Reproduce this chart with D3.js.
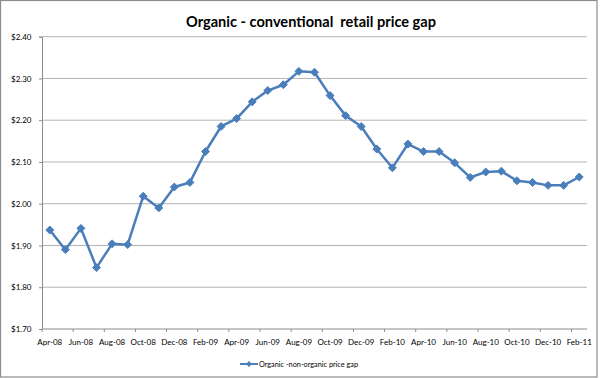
<!DOCTYPE html>
<html>
<head>
<meta charset="utf-8">
<script src="https://cdn.jsdelivr.net/npm/d3@7"></script>
<style>
  html, body { margin: 0; padding: 0; background: #fff; }
  svg { display: block; font-family: "Lato", "Liberation Sans", sans-serif; }
</style>
</head>
<body>
<div id="chart"></div>
<script>
// months on the category axis
const months = ['Apr-08','May-08','Jun-08','Jul-08','Aug-08','Sep-08','Oct-08','Nov-08','Dec-08',
  'Jan-09','Feb-09','Mar-09','Apr-09','May-09','Jun-09','Jul-09','Aug-09','Sep-09','Oct-09','Nov-09','Dec-09',
  'Jan-10','Feb-10','Mar-10','Apr-10','May-10','Jun-10','Jul-10','Aug-10','Sep-10','Oct-10','Nov-10','Dec-10',
  'Jan-11','Feb-11'];
// price gap
const priceGap = [1.937, 1.890, 1.941, 1.847, 1.904, 1.902, 2.018, 1.990, 2.040,
  2.051, 2.125, 2.185, 2.204, 2.244, 2.271, 2.285, 2.317, 2.315, 2.259, 2.211, 2.185,
  2.131, 2.086, 2.143, 2.125, 2.125, 2.098, 2.063, 2.076, 2.078, 2.055, 2.051, 2.044,
  2.044, 2.064];
const yTicks = [1.70, 1.80, 1.90, 2.00, 2.10, 2.20, 2.30, 2.40];
const seriesName = 'Organic -non-organic price gap';
const title = 'Organic - conventional  retail price gap';

const W = 600, H = 378;
const svg = d3.select('#chart').append('svg').attr('width', W).attr('height', H);

// chart border
svg.append('rect').attr('x', 0.5).attr('y', 0.5).attr('width', 596.5).attr('height', 376.5)
  .attr('fill', '#fff').attr('stroke', '#8c8c8c').attr('stroke-width', 1.2);

// title
svg.append('text').attr('x', 311).attr('y', 26.5).attr('text-anchor', 'middle')
  .attr('font-size', 16).attr('font-weight', 'bold').attr('fill', '#000')
  .attr('textLength', 250).attr('lengthAdjust', 'spacingAndGlyphs')
  .style('white-space', 'pre')
  .text(title);

// plot area
const pLeft = 42, pRight = 587, pTop = 36.7, pBottom = 329;

let xScale = d3.scaleBand().domain(months).range([pLeft, pRight]).padding(0);
let yScale = d3.scaleLinear().domain([1.70, 2.40]).range([pBottom, pTop]);
let cx = function (m) { return xScale(m) + xScale.bandwidth() / 2; };

// gridlines
svg.append('g').selectAll('line').data(yTicks.slice(1)).enter().append('line')
  .attr('x1', pLeft).attr('x2', pRight)
  .attr('y1', d => yScale(d)).attr('y2', d => yScale(d))
  .attr('stroke', '#b4b4b4').attr('stroke-width', 1);

// y axis
let yAxis = svg.append('g').attr('transform', 'translate(' + pLeft + ',0)')
  .call(d3.axisLeft(yScale).tickValues(yTicks).tickSize(3).tickPadding(7.5).tickFormat(d3.format('$.2f')));
yAxis.select('.domain').attr('stroke', '#8c8c8c');
yAxis.selectAll('.tick line').attr('stroke', '#8c8c8c');
yAxis.selectAll('text').attr('font-size', 8).attr('fill', '#000').attr('font-family', 'Lato, sans-serif');

// x axis labels (every second month)
let labelMonths = months.filter((m, i) => i % 2 === 0);
let xAxis = svg.append('g').attr('transform', 'translate(0,' + pBottom + ')')
  .call(d3.axisBottom(xScale).tickValues(labelMonths).tickSize(0).tickPadding(10));
xAxis.select('.domain').remove();
xAxis.selectAll('text').attr('font-size', 8).attr('fill', '#000').attr('font-family', 'Lato, sans-serif');

// x axis line and tick marks at category edges
svg.append('line').attr('x1', pLeft).attr('x2', pRight).attr('y1', pBottom).attr('y2', pBottom)
  .attr('stroke', '#8c8c8c');
svg.append('g').selectAll('line').data(labelMonths).enter().append('line')
  .attr('x1', d => xScale(d)).attr('x2', d => xScale(d))
  .attr('y1', pBottom).attr('y2', pBottom + 3)
  .attr('stroke', '#8c8c8c');

// series
const blue = '#4a7ebb';
const data = months.map((m, i) => ({ m: m, v: priceGap[i] }));
let line = d3.line().x(d => cx(d.m)).y(d => yScale(d.v));
svg.append('path').datum(data).attr('d', line)
  .attr('fill', 'none').attr('stroke', blue).attr('stroke-width', 2.5).attr('stroke-linejoin', 'round');
let diamond = d3.symbol().type(d3.symbolDiamond2).size(40);
svg.append('g').selectAll('path').data(data).enter().append('path')
  .attr('d', diamond)
  .attr('transform', d => 'translate(' + cx(d.m) + ',' + yScale(d.v) + ')')
  .attr('fill', blue).attr('stroke', blue).attr('stroke-width', 1);

// legend
let lg = svg.append('g').attr('transform', 'translate(240,364)');
lg.append('line').attr('x1', 0).attr('x2', 18).attr('stroke', blue).attr('stroke-width', 2);
lg.append('path').attr('d', d3.symbol().type(d3.symbolDiamond2).size(22)).attr('transform', 'translate(9,0)')
  .attr('fill', blue);
lg.append('text').attr('x', 19).attr('y', 3).attr('font-size', 8).attr('fill', '#000')
  .attr('font-family', 'Lato, sans-serif')
  .attr('textLength', 99).attr('lengthAdjust', 'spacingAndGlyphs')
  .text(seriesName);
</script>
</body>
</html>
